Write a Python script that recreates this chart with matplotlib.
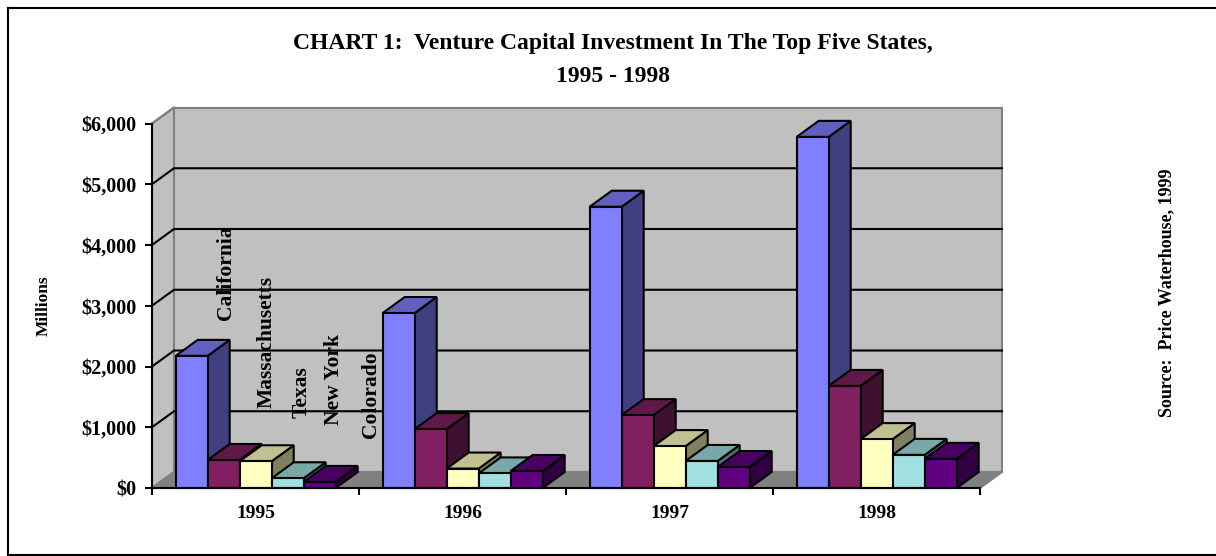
import matplotlib
matplotlib.use("Agg")
import matplotlib.pyplot as plt
from matplotlib.patches import Polygon
from matplotlib.lines import Line2D

plt.rcParams['font.family'] = ['Liberation Serif', 'DejaVu Serif']
plt.rcParams['font.weight'] = 'bold'

years = ["1995", "1996", "1997", "1998"]
states = ["California", "Massachusetts", "Texas", "New York", "Colorado"]
california = [2175, 2880, 4630, 5780]
massachusetts = [461, 970, 1200, 1680]
texas = [440, 320, 690, 805]
new_york = [160, 240, 445, 545]
colorado = [100, 280, 345, 480]
series = [california, massachusetts, texas, new_york, colorado]
y_ticks = [0, 1000, 2000, 3000, 4000, 5000, 6000]
y_labels = ["$0", "$1,000", "$2,000", "$3,000", "$4,000", "$5,000", "$6,000"]

# front, top, side
colors = [("#8080ff", "#6060c0", "#404080"),
          ("#802060", "#601848", "#401030"),
          ("#ffffc0", "#c0c090", "#808060"),
          ("#a0e0e0", "#78a8a8", "#507070"),
          ("#600080", "#480060", "#300040")]

W, H = 1216, 556
fig = plt.figure(figsize=(W / 100, H / 100), dpi=100, facecolor="white")
ax = fig.add_axes([152 / W, (H - 488) / H, 828 / W, 364.5 / H])
ax.set_xlim(0, 4)
ax.set_ylim(0, 6000)
ax.patch.set_visible(False)

# depth of the 3d box in data units
dx = 22 / 207
dy = 16 / 364.5 * 6000
lw = 1.5


def poly(pts, face, edge="black", z=3, width=lw):
    ax.add_patch(Polygon(pts, closed=True, facecolor=face, edgecolor=edge,
                         linewidth=width, clip_on=False, zorder=z, joinstyle="miter"))


# walls and floor
poly([(0, 0), (dx, dy), (dx, 6000 + dy), (0, 6000)], "#c0c0c0", "#808080", 1)
poly([(dx, dy), (4 + dx, dy), (4 + dx, 6000 + dy), (dx, 6000 + dy)], "#c0c0c0", "#808080", 1)
poly([(0, 0), (dx, dy), (4 + dx, dy), (4, 0)], "#808080", "#808080", 1)

for t in y_ticks[1:-1]:
    ax.plot([0, dx, 4 + dx], [t, t + dy, t + dy], color="black", lw=1.5, zorder=2, clip_on=False)
ax.plot([0, dx], [6000, 6000 + dy], color="#808080", lw=1.5, zorder=2, clip_on=False)

# bars
offset = 23.7 / 207
bar_w = 32 / 207
for i in range(len(years)):
    for j, vals in enumerate(series):
        v = vals[i]
        x0 = i + offset + j * bar_w
        x1 = x0 + bar_w
        front, top, side = colors[j]
        poly([(x1, 0), (x1 + dx, dy), (x1 + dx, v + dy), (x1, v)], side)
        poly([(x0, v), (x0 + dx, v + dy), (x1 + dx, v + dy), (x1, v)], top)
        ax.bar(x0, v, width=bar_w, align="edge", color=front, edgecolor="black",
               linewidth=lw, zorder=3, clip_on=False)

# series names over the first group
label_x = [0.358, 0.556, 0.725, 0.879, 1.057]
label_base = [2770, 1320, 1155, 1040, 825]
for s, lx, ly in zip(states, label_x, label_base):
    ax.text(lx, ly, s, rotation=90, ha="center", va="bottom", fontsize=15.5, color="black", zorder=5)

for side in ("top", "right"):
    ax.spines[side].set_visible(False)
for side in ("left", "bottom"):
    ax.spines[side].set_linewidth(1.5)
    ax.spines[side].set_zorder(6)

ax.set_yticks(y_ticks)
ax.set_yticklabels(y_labels, fontsize=14.5)
ax.tick_params(axis="y", length=5, width=1.5, pad=6)
ax.set_xticks(range(5))
ax.set_xticklabels([])
ax.tick_params(axis="x", length=5, width=1.5)
for i, y in enumerate(years):
    ax.annotate(y, (i + 0.5, 0), xytext=(0, -25), textcoords="offset pixels", ha="center",
                va="center", fontsize=14, annotation_clip=False)

fig.text(613 / W, 1 - 43 / H, "CHART 1:  Venture Capital Investment In The Top Five States,",
         ha="center", va="center", fontsize=17)
fig.text(613 / W, 1 - 77 / H, "1995 - 1998", ha="center", va="center", fontsize=17)
fig.text(44 / W, 1 - 306 / H, "Millions", rotation=90, ha="center", va="center", fontsize=12.5)
fig.text(1167 / W, 1 - 293 / H, "Source:  Price Waterhouse, 1999", rotation=90,
         ha="center", va="center", fontsize=13)

# chart frame, runs off on the right
for xs, ys in [((8, 1216), (7.5, 7.5)), ((8, 8), (7.5, 554.5)), ((8, 1216), (554.5, 554.5))]:
    fig.add_artist(Line2D([x / W for x in xs], [1 - y / H for y in ys], color="black", lw=1.5))

fig.savefig("out.png", dpi=100)
